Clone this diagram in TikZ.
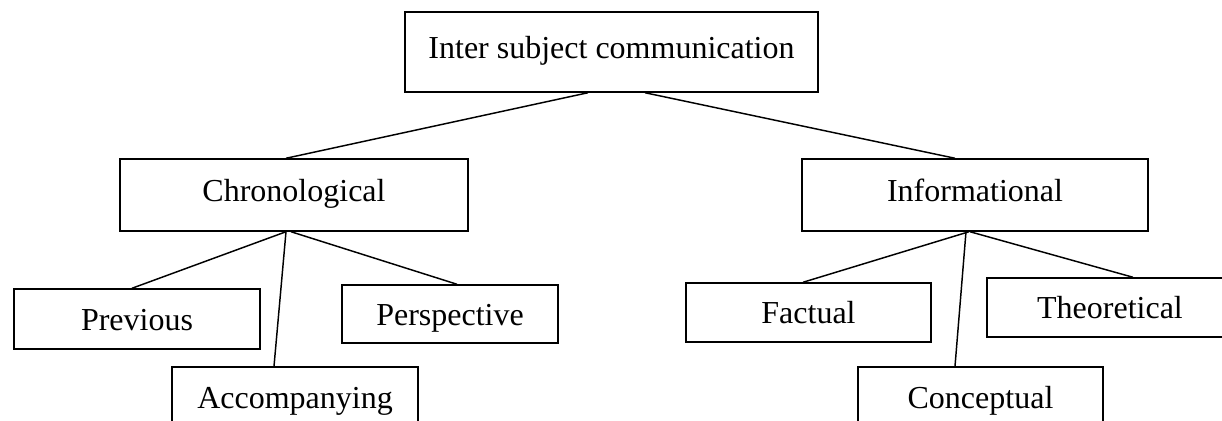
\documentclass[tikz,border=0pt]{standalone}
\usepackage{fontspec}
\setmainfont{Liberation Serif}
\usetikzlibrary{calc}
\tikzset{
  box/.style={draw, line width=1.1pt, rectangle, inner sep=0pt,
    font=\fontsize{24}{28}\selectfont, text height=14pt, text depth=5pt},
  lowbox/.style={box, text height=21.5pt},
  cutbox/.style={box, text height=15.5pt},
  link/.style={line width=1.1pt}
}
\begin{document}
\begin{tikzpicture}[x=0.75pt,y=-0.75pt]
\clip (0,0) rectangle (1222,421);
\fill[white] (0,0) rectangle (1222,421);
\node[box, minimum width=309.75pt, minimum height=60pt] (top) at (611.5,52) {Inter subject communication};
\node[box, minimum width=261pt, minimum height=54pt] (chron) at (294,195) {Chronological};
\node[box, minimum width=259.5pt, minimum height=54pt] (info) at (975,195) {Informational};
\node[lowbox, minimum width=184.5pt, minimum height=45pt] (prev) at (137,319) {Previous};
\node[lowbox, minimum width=162pt, minimum height=43.5pt] (persp) at (450,314) {Perspective};
\node[cutbox, minimum width=184.5pt, minimum height=51pt] (accomp) at (295,401) {Accompanying};
\node[lowbox, minimum width=183.75pt, minimum height=44.25pt] (fact) at (808.5,312.5) {Factual};
\node[lowbox, minimum width=184.5pt, minimum height=44.25pt] (theo) at (1110,307.5) {Theoretical};
\node[cutbox, minimum width=183.75pt, minimum height=51pt] (concept) at (980.5,401) {Conceptual};
\draw[link] ($(top.south)+(-23.5,0)$) -- ($(chron.north)+(-8,0)$);
\draw[link] ($(top.south)+(33.5,0)$) -- ($(info.north)+(-20,0)$);
\draw[link] ($(chron.south)+(-8,0)$) -- ($(prev.north)+(-5,0)$);
\draw[link] ($(chron.south)+(-8,0)$) -- ($(accomp.north)+(-21,0)$);
\draw[link] ($(chron.south)+(-3,0)$) -- ($(persp.north)+(7,0)$);
\draw[link] ($(info.south)+(-6,0)$) -- ($(fact.north)+(-5.5,0)$);
\draw[link] ($(info.south)+(-9,0)$) -- ($(concept.north)+(-25.5,0)$);
\draw[link] ($(info.south)+(-5,0)$) -- ($(theo.north)+(23,0)$);
\end{tikzpicture}
\end{document}
